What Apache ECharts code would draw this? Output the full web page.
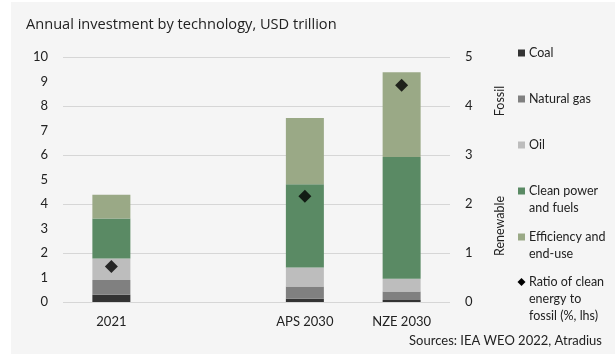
<!DOCTYPE html>
<html>
<head>
<meta charset="utf-8">
<script src="https://cdn.jsdelivr.net/npm/echarts@6/dist/echarts.min.js"></script>
<style>
  html, body { margin: 0; padding: 0; background: #ffffff; }
  #chart { width: 615px; height: 354px; }
</style>
</head>
<body>
<div id="chart"></div>
<script>
// Scenario columns (blank slot keeps the gap between 2021 and the 2030 scenarios)
const categories = ['2021', '', 'APS 2030', 'NZE 2030'];

// Annual investment, USD trillion (right-hand axis)
const coal        = [0.15, null, 0.065, 0.04];
const naturalGas  = [0.30, null, 0.25, 0.175];
const oil         = [0.44, null, 0.39, 0.26];
const cleanPower  = [0.815, null, 1.70, 2.485];
const efficiency  = [0.485, null, 1.35, 1.73];

// Ratio of clean energy to fossil investment (left-hand axis)
const cleanToFossil = [1.45, null, 4.32, 8.85];

const leftTicks  = [0, 1, 2, 3, 4, 5, 6, 7, 8, 9, 10];
const rightTicks = [0, 1, 2, 3, 4, 5];

const seriesNames = ['Coal', 'Natural gas', 'Oil', 'Clean power\nand fuels', 'Efficiency and\nend-use'];
const seriesData  = [coal, naturalGas, oil, cleanPower, efficiency];
const seriesColors = ['#333333', '#808080', '#bdbdbd', '#5a8a64', '#9aa986'];
const ratioName = 'Ratio of clean\nenergy to\nfossil (%, lhs)';

const FONT = 'Lato, "Open Sans", sans-serif';
const TITLE_FONT = '"Open Sans", Lato, sans-serif';
const chart = echarts.init(document.getElementById('chart'), null, { renderer: 'canvas' });

const barSeries = seriesData.map((d, i) => ({
  name: seriesNames[i],
  type: 'bar',
  stack: 'investment',
  yAxisIndex: 1,
  barWidth: 38,
  itemStyle: { color: seriesColors[i] },
  data: d
}));

// Hand-built legend column on the right
const legendItems = [];
const legendTops = [53, 99, 145, 191, 237];
seriesNames.forEach((n, i) => {
  legendItems.push({
    type: 'rect', shape: { x: 518, y: legendTops[i] - 3.5, width: 7, height: 7 },
    style: { fill: seriesColors[i] }
  });
  legendItems.push({
    type: 'text', x: 529, y: legendTops[i] - 8.5,
    style: { text: n, font: '12.5px ' + FONT, fill: '#222', lineHeight: 17, textVerticalAlign: 'top' }
  });
});
legendItems.push({
  type: 'polygon', shape: { points: [[521.5, 278], [525.5, 282], [521.5, 286], [517.5, 282]] },
  style: { fill: '#000' }
});
legendItems.push({
  type: 'text', x: 529, y: 282 - 8.5,
  style: { text: ratioName, font: '12.5px ' + FONT, fill: '#222', lineHeight: 17, textVerticalAlign: 'top' }
});

chart.setOption({
  backgroundColor: '#ffffff',
  animation: false,
  textStyle: { fontFamily: FONT },
  title: {
    text: 'Annual investment by technology, USD trillion',
    left: 21, top: 12,
    textStyle: { fontSize: 14.6, fontWeight: 'normal', color: '#222', fontFamily: TITLE_FONT }
  },
  grid: { left: 63, right: 165, top: 57, bottom: 52, containLabel: false },
  xAxis: {
    type: 'category',
    data: categories,
    axisLine: { show: false },
    axisTick: { show: false },
    axisLabel: { color: '#222', fontSize: 13, margin: 13, interval: 0 }
  },
  yAxis: [
    {
      type: 'value', min: 0, max: 10, interval: 1, position: 'left',
      splitLine: { show: false },
      axisLine: { show: false }, axisTick: { show: false },
      axisLabel: { color: '#222', fontSize: 13, margin: 15,
        formatter: v => leftTicks.includes(v) ? String(v) : '' }
    },
    {
      type: 'value', min: 0, max: 5, interval: 1, position: 'right',
      splitLine: { show: true, lineStyle: { color: '#d6d6d6', width: 1 } },
      axisLine: { show: false }, axisTick: { show: false },
      axisLabel: { color: '#222', fontSize: 13, margin: 15,
        formatter: v => rightTicks.includes(v) ? String(v) : '' }
    }
  ],
  series: barSeries.concat([{
    name: ratioName,
    type: 'scatter',
    yAxisIndex: 0,
    symbol: 'diamond',
    symbolSize: [13, 13],
    itemStyle: { color: '#000000' },
    z: 10,
    data: cleanToFossil
  }]),
  graphic: [
    {
      type: 'rect', z: -10, silent: true,
      shape: { x: 11, y: 2, width: 604, height: 352 },
      style: { fill: '#f5f5f5' }
    },
    {
      type: 'text', x: 500, y: 101, rotation: Math.PI / 2,
      style: { text: 'Fossil', font: '12.5px ' + FONT, fill: '#222', textAlign: 'center', textVerticalAlign: 'middle' }
    },
    {
      type: 'text', x: 500, y: 226, rotation: Math.PI / 2,
      style: { text: 'Renewable', font: '12.5px ' + FONT, fill: '#222', textAlign: 'center', textVerticalAlign: 'middle' }
    },
    {
      type: 'text', right: 13, top: 334,
      style: { text: 'Sources: IEA WEO 2022, Atradius', font: '13px ' + FONT, fill: '#222' }
    }
  ].concat(legendItems)
});
</script>
</body>
</html>
